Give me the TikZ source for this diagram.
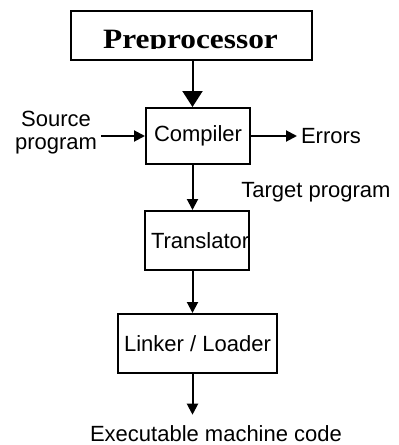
\documentclass[tikz,border=0pt]{standalone}
\usepackage{fontspec}
\setmainfont{Liberation Sans}
\newfontfamily\prefont{Liberation Serif}[FakeStretch=1.12]
\usetikzlibrary{arrows.meta, positioning}

\begin{document}
\begin{tikzpicture}[x=1pt, y=-1pt, line width=2pt,
    >={Triangle[length=11pt,width=11pt]},
    font=\fontsize{22}{23}\selectfont,
    box/.style={draw, inner xsep=6pt, inner ysep=0pt, align=left}]
  \useasboundingbox (0,0) rectangle (399,445);

  % Preprocessor box, text cut off at the bottom
  \node[draw, minimum width=241pt, minimum height=49pt] (pre) at (191.5,35.5) {};
  \begin{scope}
    \clip (pre.north west) rectangle (pre.east |- 0,48.5);
    \node[font=\prefont\bfseries\fontsize{28}{28}\selectfont, anchor=base]
      (pretext) at (190.5,48.5) {Preprocessor};
  \end{scope}

  % main chain
  \node[box, inner xsep=8pt, text width=88pt, minimum height=56pt] (comp) at (198,136) {Compiler};
  \node[box, text width=92pt, minimum height=59pt] (trans) at (197,240.5) {Translator};
  \node[box, minimum width=155pt, minimum height=59pt] (link) at (197.5,343.5) {Linker / Loader};

  % side labels
  \node[align=center] (src) at (56,133) {Source\\program};
  \node[anchor=west, inner xsep=3pt] (err) at (297,136) {Errors};
  \node[anchor=base] (tgt) at (316,197) {Target program};
  \node[anchor=base] (exe) at (216,441) {Executable machine code};

  % arrows
  \coordinate (ax) at (192.5,0);
  \draw[-{Triangle[length=16pt,width=20pt]}] (pre.south -| ax) -- (comp.north -| ax);
  \draw[->] (src.east |- comp.west) -- (comp.west);
  \draw[->] (comp) -- (err);
  \draw[->] (comp.south -| ax) -- (trans.north -| ax);
  \draw[->] (trans.south -| ax) -- (link.north -| ax);
  \draw[->, shorten >=6pt] (link.south -| ax) -- (exe.north -| ax);
\end{tikzpicture}
\end{document}
